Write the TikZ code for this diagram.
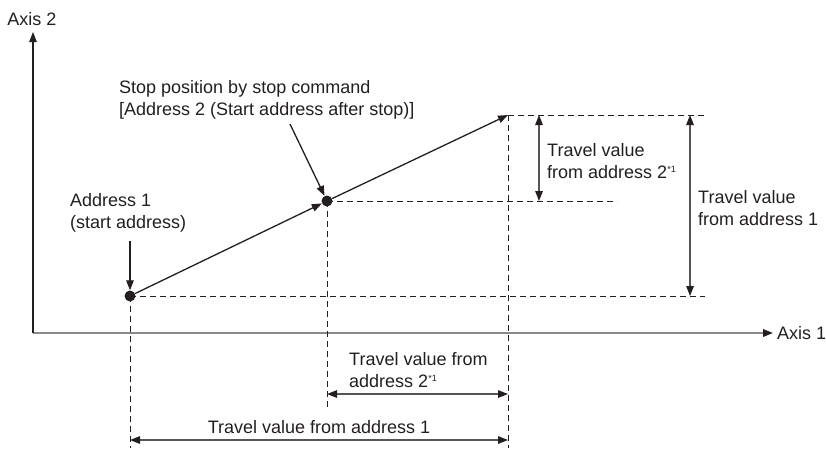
\documentclass[tikz,border=0pt]{standalone}
\usepackage{fontspec}
\setmainfont{Liberation Sans}
\usetikzlibrary{positioning,calc,arrows.meta}
\definecolor{ink}{HTML}{231F20}
\definecolor{axisgray}{HTML}{8A8A8A}
\definecolor{dimgray}{HTML}{555555}
\newcommand{\noteone}{\textsuperscript{\fontsize{9}{9}\selectfont *1}}

\begin{document}
\begin{tikzpicture}[x=1pt,y=-1pt,
  line/.style={draw=ink,line width=1.3pt},
  arr/.style={line,-{Triangle[length=10pt,width=7.5pt,color=ink]}},
  dim/.style={line,draw=dimgray,{Triangle[length=10pt,width=7.5pt,color=ink]}-{Triangle[length=10pt,width=7.5pt,color=ink]}},
  guide/.style={draw=ink,line width=1pt,dash pattern=on 6pt off 4pt},
  lbl/.style={font=\fontsize{18}{22}\selectfont,align=left,inner sep=0pt,text=ink},
  dot/.style={circle,fill=ink,minimum size=11pt,inner sep=0pt}]
\useasboundingbox (0,0) rectangle (826,448);
% AXES
\coordinate (O) at (33,333);
\coordinate (ax1) at (773,333);
\coordinate (ax2) at (33,32);
\draw[arr,draw=axisgray,line width=1.8pt] (O) -- (ax1);
\draw[arr] (O) -- (ax2);
\node[lbl,right=4pt of ax1] (ax1lbl) {Axis 1};
\node[lbl] (ax2lbl) at (32,19) {Axis 2};
% POSITIONS: start, stop, end of travel
\node[dot] (start) at (130,296) {};
\node[dot] (stop) at (327,201) {};
\coordinate (goal) at (508,115);
\draw[arr] (start) -- (stop);
\draw[arr] (stop) -- (goal);
% GUIDE LINES
\coordinate (gs) at (705,296);
\coordinate (gm) at (617,201);
\coordinate (gg) at (707,115);
\draw[guide] (start.center) -- (gs);
\draw[guide] (stop.center) -- (gm);
\draw[guide] (goal) -- (gg);
\coordinate (vs) at (130,448);
\coordinate (vm) at (327,408);
\coordinate (vg) at (508,448);
\draw[guide] (start.center) -- (vs);
\draw[guide] (stop.center) -- (vm);
\draw[guide] (goal) -- (vg);
% LABELS with pointers
\node[lbl,anchor=west] (startlbl) at (70,213) {Address 1\\(start address)};
\draw[arr] ([yshift=-8pt]startlbl.south -| start) -- (start);
\node[lbl,anchor=west] (stoplbl) at (119,100) {Stop position by stop command\\{[}Address 2 (Start address after stop)]};
\coordinate (stopptr) at (290,124);
\draw[arr] (stopptr) -- (stop);
% TRAVEL VALUES, axis 2
\coordinate (i2t) at (539,115);
\coordinate (i2b) at (539,201);
\draw[dim] (i2t) -- (i2b);
\node[lbl,anchor=west] (i2lbl) at (547,161) {Travel value\\from address 2\noteone};
\coordinate (o2t) at (690,115);
\coordinate (o2b) at (690,296);
\draw[dim] (o2t) -- (o2b);
\node[lbl,anchor=west] (o2lbl) at (698,208) {Travel value\\from address 1};
% TRAVEL VALUES, axis 1
\coordinate (i1l) at (327,394);
\coordinate (i1r) at (508,394);
\draw[dim] (i1l) -- (i1r);
\node[lbl,anchor=west] (i1lbl) at (349,370) {Travel value from\\address 2\noteone};
\coordinate (o1l) at (130,440);
\coordinate (o1r) at (508,440);
\draw[dim] (o1l) -- (o1r);
\node[lbl] (o1lbl) at (319,427) {Travel value from address 1};
\end{tikzpicture}
\end{document}
